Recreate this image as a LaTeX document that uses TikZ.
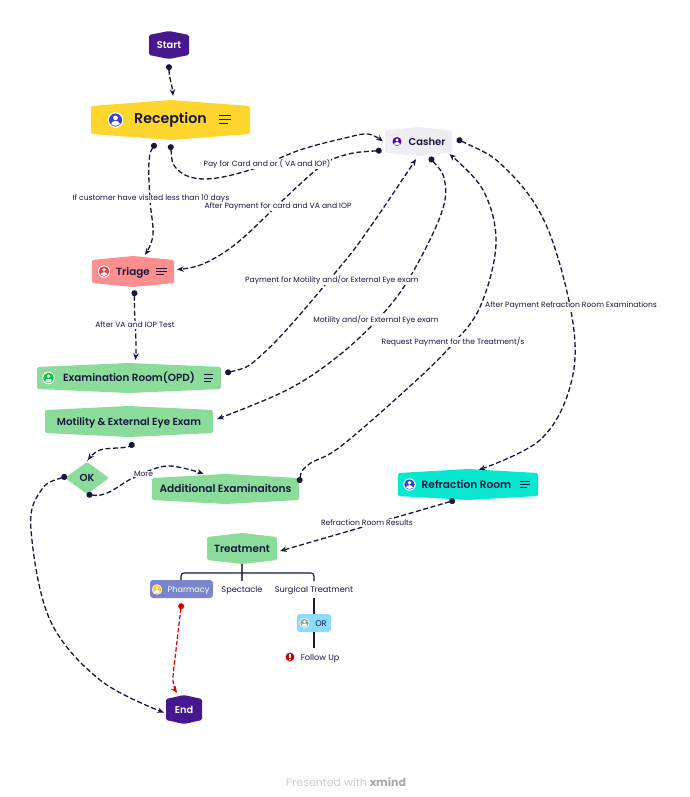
\documentclass[tikz,border=0pt]{standalone}
\usepackage{fontspec}
\setmainfont{Poppins}
\newfontface\topicface{Poppins SemiBold}
\usetikzlibrary{arrows.meta,calc}
\definecolor{ink}{HTML}{16163F}
\definecolor{royal}{HTML}{46178F}
\definecolor{sun}{HTML}{FFD62E}
\definecolor{coral}{HTML}{FF8F8F}
\definecolor{mist}{HTML}{EEEDF2}
\definecolor{leaf}{HTML}{8BDC9A}
\definecolor{aqua}{HTML}{08E8D0}
\definecolor{slate}{HTML}{7986CB}
\definecolor{sky}{HTML}{8BDCFC}
\tikzset{
  x=1pt,y=-1pt,
  flow/.style={draw=ink,line width=1.3pt,dash pattern=on 5pt off 2.6pt,
    {Circle[length=6pt,width=6pt]}-{Stealth[length=6.5pt,width=5.5pt]}},
  redflow/.style={flow,draw=red!85!black,dash pattern=on 4.5pt off 2pt,line width=1.2pt},
  branch/.style={draw=ink,line width=1.1pt},
  evenline/.style={text height=.72em,text depth=.02em},
  hexlabel/.style={inner sep=0pt,text=ink,evenline,font=\topicface\fontsize{#1}{#1}\selectfont},
  hexlabel/.default=11,
  edgetext/.style={fill=white,inner sep=.6pt,text=ink,font=\fontsize{7.6}{9}\selectfont},
  leaftext/.style={inner sep=.6pt,text=ink,evenline,font=\fontsize{8.2}{10}\selectfont},
}
% hexagonal topic: name, left, right, top, bottom, notch, colour, label style, text
\newcommand{\hexblock}[9]{%
  \pgfmathsetmacro{\cx}{(#2+#3)/2}\pgfmathsetmacro{\cy}{(#4+#5)/2}%
  \pgfmathsetmacro{\ya}{#4+#6}\pgfmathsetmacro{\yb}{#5-#6}%
  \pgfmathsetmacro{\boxw}{#3-#2}\pgfmathsetmacro{\boxh}{#5-#4}%
  \fill[#7,rounded corners=1.5pt] (#2,\ya) -- (\cx,#4) -- (#3,\ya) -- (#3,\yb) -- (\cx,#5) -- (#2,\yb) -- cycle;
  \node[#8,minimum width=\boxw pt,minimum height=\boxh pt] (#1) at (\cx,\cy) {#9};}
% round portrait badge
\newcommand{\personbadge}[4]{%
  \begin{scope}[shift={(#1,#2)},scale=#3]
    \fill[white] (0,0) circle (1);
    \fill[#4] (0,0) circle (.84);
    \fill[white] (0,-.27) circle (.3);
    \fill[white] (-.55,.52) .. controls (-.5,-.03) and (.5,-.03) .. (.55,.52) .. controls (.3,.8) and (-.3,.8) .. cycle;
  \end{scope}}
% three-line note mark
\newcommand{\notemark}[3]{%
  \begin{scope}[shift={(#1,#2)},scale=#3]
    \draw[ink,line width=1pt] (-6,-4) -- (6,-4) (-6,0) -- (6,0) (-6,4) -- (2.5,4);
  \end{scope}}
\begin{document}
\begin{tikzpicture}
\useasboundingbox (0,0) rectangle (690,797);

% main topics
\hexblock{start}{149}{189}{31}{59}{4}{royal}{hexlabel=9.8,text=white}{Start}
\hexblock{reception}{91}{250}{100}{140}{6}{sun}{hexlabel=14.2}{Reception}
\hexblock{triage}{92}{174}{256}{287}{4}{coral}{hexlabel=10.4}{Triage}
\hexblock{casher}{385}{452}{127}{156}{3.5}{mist}{hexlabel=10}{\hspace*{17pt}Casher}
\hexblock{exam}{37}{221}{363}{393}{4}{leaf}{hexlabel=10.4}{Examination Room(OPD)}
\hexblock{motility}{45}{213}{406}{437}{4}{leaf}{hexlabel=10.2}{Motility \& External Eye Exam}
\hexblock{additional}{152}{299}{474}{504}{4}{leaf}{hexlabel=10.6}{Additional Examinaitons}
\hexblock{refraction}{398}{538}{469}{500}{4}{aqua}{hexlabel=10.6}{\hspace*{-3pt}Refraction Room}
\hexblock{treatment}{207}{277}{533}{564}{4}{leaf}{hexlabel=10.4}{Treatment}
\hexblock{finish}{166}{202}{695}{724}{4}{royal}{hexlabel=9.8,text=white}{End}

\fill[leaf,rounded corners=1pt] (65,478) -- (87,462) -- (109,478) -- (87,494) -- cycle;
\node[hexlabel=10.2] (ok) at (87,478) {OK};

% sub-topics
\node[fill=slate,rounded corners=3pt,minimum width=63pt,minimum height=18pt,inner sep=0pt,evenline,
      text=white,font=\fontsize{8.1}{10}\selectfont] (pharmacy) at (181.5,589) {\hspace*{14pt}Pharmacy};
\node[leaftext] (spectacle) at (242,589) {Spectacle};
\node[leaftext] (surgical) at (314,589) {Surgical Treatment};
\node[fill=sky,rounded corners=3pt,minimum width=34pt,minimum height=18pt,inner sep=0pt,evenline,
      text=ink,font=\fontsize{8.2}{10}\selectfont] (orbox) at (314,623) {\hspace*{14pt}OR};
\node[leaftext,anchor=west] (followup) at (300,657) {Follow Up};

% badges and note marks
\personbadge{115.5}{120}{7.8}{blue!55!cyan!60!violet}
\notemark{225}{119.5}{1}
\personbadge{104}{271.5}{6.2}{red!80!white}
\notemark{161.5}{271.5}{.85}
\personbadge{397}{141.5}{5.4}{violet!70!blue}
\personbadge{48.5}{378}{6.3}{green!55!teal}
\notemark{208.5}{378}{.82}
\personbadge{409.5}{484.5}{6.2}{blue!55!cyan!60!violet}
\notemark{525}{484.5}{.85}
\personbadge{157}{589.5}{5.2}{sun!85!orange}
\personbadge{304.5}{623}{5}{gray!75}
\fill[red!80!black] (290,657) circle (4.4);
\fill[white] (289.2,653.6) rectangle (290.8,657.8);
\fill[white] (290,659.6) circle (.9);

% connector ports, placed around their topics
\coordinate (startS) at ([shift={(0,5)}]start.south);
\coordinate (recN) at ([shift={(2.5,-4)}]reception.north);
\coordinate (recSa) at ([shift={(-15,3)}]reception.south);
\coordinate (recSb) at ([shift={(0,4)}]reception.south);
\coordinate (triN) at ([shift={(12,-1)}]triage.north);
\coordinate (triE) at ([shift={(3,-2)}]triage.east);
\coordinate (triS) at ([shift={(1.5,3)}]triage.south);
\coordinate (casW) at ([shift={(-2,0)}]casher.west);
\coordinate (casWb) at ([shift={(-3,9)}]casher.west);
\coordinate (casSa) at ([shift={(-2.5,3)}]casher.south);
\coordinate (casSb) at ([shift={(11,1)}]casher.south);
\coordinate (casSc) at ([shift={(31,-2)}]casher.south);
\coordinate (casE) at ([shift={(4.5,-2.5)}]casher.east);
\coordinate (exaN) at ([shift={(6.5,-3)}]exam.north);
\coordinate (exaE) at ([shift={(4,-5)}]exam.east);
\coordinate (motE) at ([shift={(4,-2.5)}]motility.east);
\coordinate (motS) at ([shift={(1.5,5)}]motility.south);
\coordinate (okN) at (88,460);
\coordinate (okW) at (67,476);
\coordinate (okS) at (86.5,494.5);
\coordinate (addN) at ([shift={(-22,0)}]additional.north);
\coordinate (addE) at ([shift={(0,-6)}]additional.east);
\coordinate (refN) at ([shift={(11,1)}]refraction.north);
\coordinate (refS) at ([shift={(-13,0)}]refraction.south);
\coordinate (treE) at ([shift={(3,2.5)}]treatment.east);
\coordinate (phaS) at ([shift={(0,5)}]pharmacy.south);
\coordinate (endN) at ([shift={(-7,-2)}]finish.north);
\coordinate (endW) at ([shift={(-2,3)}]finish.west);

% process flow
\draw[flow] (startS) .. controls (169,78) and (172,84) .. (recN);
\draw[flow] plot[smooth,tension=.6] coordinates {(recSa) (149,162) (150,200) (153,235) (triN)};
\draw[flow] plot[smooth,tension=.6] coordinates {(recSb) (178,170) (205,179) (250,170) (300,150) (345,138) (368,134) (casW)};
\draw[flow] plot[smooth,tension=.6] coordinates {(casWb) (345,155) (320,167) (283,200) (237,243) (203,264) (triE)};
\draw[flow] (triS) .. controls (134,320) and (137,340) .. (exaN);
\draw[flow] plot[smooth,tension=.6] coordinates {(exaE) (267,350) (340,267) (373,223) (casSa)};
\draw[flow] plot[smooth,tension=.6] coordinates {(casSb) (445,183) (440,217) (410,277) (380,317) (337,357) (287,390) (motE)};
\draw[flow] plot[smooth,tension=.6] coordinates {(addE) (308,465) (340,447) (408,388) (450,347) (480,307) (496,243) (483,190) (casSc)};
\draw[flow] plot[smooth,tension=.6] coordinates {(casE) (507,170) (547,227) (573,323) (570,387) (540,440) (refN)};
\draw[flow] (refS) -- (treE);
\draw[flow] plot[smooth,tension=.6] coordinates {(motS) (127,447) (100,450) (okN)};
\draw[flow] plot[smooth,tension=.6] coordinates {(okS) (107,493) (133,478) (167,466) (addN)};
\draw[flow] plot[smooth,tension=.6] coordinates {(okW) (40,492) (31,530) (50,620) (100,680) (endW)};
\draw[redflow] plot[smooth,tension=.6] coordinates {(phaS) (176,650) (173,680) (endN)};

% tree branches
\draw[branch,line width=1.4pt,draw=ink!75] (treatment.south) -- (242,581);
\draw[branch,rounded corners=3pt] (pharmacy.north) ++(-.5,0) -- (181,573) -- (314,573) -- (314,581);
\draw[branch] (orbox.north) ++(0,-16) -- (orbox.north);
\draw[branch] (orbox.south) -- (314,648);

% connector captions
\node[edgetext] (capVisit) at (151,199) {If customer have visited less than 10 days};
\node[edgetext] (capPay) at (267,164) {Pay for Card and or ( VA and IOP)};
\node[edgetext] (capAfter) at (278,207) {After Payment for card and VA and IOP};
\node[edgetext] (capMotPay) at (332,280) {Payment for Motility and/or External Eye exam};
\node[edgetext] (capTest) at (135,325) {After VA and IOP Test};
\node[edgetext] (capMot) at (376,320) {Motility and/or External Eye exam};
\node[edgetext] (capReq) at (453,342) {Request Payment for the Treatment/s};
\node[edgetext] (capRef) at (571,306) {After Payment Refraction Room Examinations};
\node[edgetext] (capMore) at (143.5,474) {More};
\node[edgetext] (capRes) at (367,523) {Refraction Room Results};

% footer
\node[text=gray!40,font=\fontsize{11}{13}\selectfont,inner sep=0pt] (footer) at (346,782)
  {Presented with \textcolor{gray!70}{\textbf{xmind}}};
\end{tikzpicture}
\end{document}
